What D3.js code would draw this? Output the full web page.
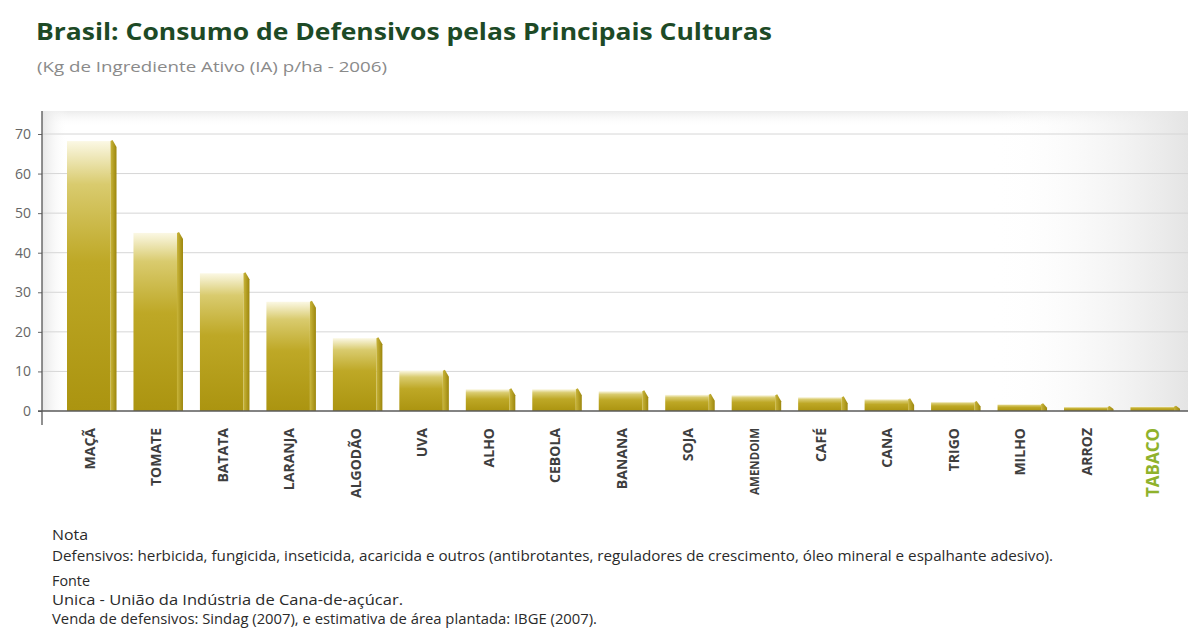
<!DOCTYPE html>
<html>
<head>
<meta charset="utf-8">
<script src="https://cdn.jsdelivr.net/npm/d3@7"></script>
<style>
  body { margin: 0; background: #fff; }
  svg { display: block; font-family: "Open Sans", "Noto Sans", sans-serif; }
</style>
</head>
<body>
<div id="chart"></div>
<script>
// crops and kg of active ingredient per hectare (2006)
var crops = ["MAÇÃ", "TOMATE", "BATATA", "LARANJA", "ALGODÃO", "UVA", "ALHO", "CEBOLA", "BANANA",
  "SOJA", "AMENDOIM", "CAFÉ", "CANA", "TRIGO", "MILHO", "ARROZ", "TABACO"];
var kgPerHa = [68.2, 45, 34.8, 27.6, 18.4, 10.2, 5.5, 5.5, 5, 4.1, 4, 3.5, 3, 2.3, 1.7, 1, 1.1];
var yTicks = [0, 10, 20, 30, 40, 50, 60, 70];
var notes = [
  "Nota",
  "Defensivos: herbicida, fungicida, inseticida, acaricida e outros (antibrotantes, reguladores de crescimento, óleo mineral e espalhante adesivo).",
  "Fonte",
  "Unica - União da Indústria de Cana-de-açúcar.",
  "Venda de defensivos: Sindag (2007), e estimativa de área plantada: IBGE (2007)."
];
var noteWidths = [36, 1001, 38, 351, 545];

var svgWidth = 1188;
var svgHeight = 633;
var plot = { left: 42, right: 1188, top: 111, bottom: 411 };

var svg = d3.select("#chart")
  .append("svg")
  .attr("width", svgWidth)
  .attr("height", svgHeight);

var defs = svg.append("defs");

var faceGrad = defs.append("linearGradient")
  .attr("id", "face").attr("x1", 0).attr("y1", 1).attr("x2", 0).attr("y2", 0);
faceGrad.append("stop").attr("offset", "0%").attr("stop-color", "#ab9410");
faceGrad.append("stop").attr("offset", "55%").attr("stop-color", "#bea826");
faceGrad.append("stop").attr("offset", "84%").attr("stop-color", "#d9cb6e");
faceGrad.append("stop").attr("offset", "100%").attr("stop-color", "#fbf8e4");

var sideGrad = defs.append("linearGradient")
  .attr("id", "side").attr("x1", 0).attr("y1", 0).attr("x2", 1).attr("y2", 0);
sideGrad.append("stop").attr("offset", "0%").attr("stop-color", "#c9b53a");
sideGrad.append("stop").attr("offset", "100%").attr("stop-color", "#9c860c");

var rightGrad = defs.append("linearGradient")
  .attr("id", "rightbg").attr("x1", 0).attr("y1", 0).attr("x2", 1).attr("y2", 0);
rightGrad.append("stop").attr("offset", "0%").attr("stop-color", "#ffffff").attr("stop-opacity", 0);
rightGrad.append("stop").attr("offset", "100%").attr("stop-color", "#e4e4e4").attr("stop-opacity", 1);

var leftGrad = defs.append("linearGradient")
  .attr("id", "leftbg").attr("x1", 0).attr("y1", 0).attr("x2", 1).attr("y2", 0);
leftGrad.append("stop").attr("offset", "0%").attr("stop-color", "#e6e6e6");
leftGrad.append("stop").attr("offset", "100%").attr("stop-color", "#ffffff").attr("stop-opacity", 0);

var topGrad = defs.append("linearGradient")
  .attr("id", "topbg").attr("x1", 0).attr("y1", 0).attr("x2", 0).attr("y2", 1);
topGrad.append("stop").attr("offset", "0%").attr("stop-color", "#ececec");
topGrad.append("stop").attr("offset", "100%").attr("stop-color", "#ffffff").attr("stop-opacity", 0);

// title
svg.append("text")
  .attr("x", 36).attr("y", 40)
  .attr("fill", "#1d4a26")
  .attr("font-size", 24).attr("font-weight", "bold")
  .attr("textLength", 736).attr("lengthAdjust", "spacingAndGlyphs")
  .text("Brasil: Consumo de Defensivos pelas Principais Culturas");

svg.append("text")
  .attr("x", 37).attr("y", 72)
  .attr("fill", "#8a8a8a")
  .attr("font-size", 15)
  .attr("textLength", 350).attr("lengthAdjust", "spacingAndGlyphs")
  .text("(Kg de Ingrediente Ativo (IA) p/ha - 2006)");

// background shading
svg.append("rect")
  .attr("x", plot.left).attr("y", plot.top)
  .attr("width", plot.right - plot.left).attr("height", 16)
  .attr("fill", "url(#topbg)");
svg.append("rect")
  .attr("x", 990).attr("y", plot.top)
  .attr("width", plot.right - 990).attr("height", plot.bottom - plot.top)
  .attr("fill", "url(#rightbg)");
svg.append("rect")
  .attr("x", plot.left).attr("y", plot.top)
  .attr("width", 26).attr("height", plot.bottom - plot.top)
  .attr("fill", "url(#leftbg)");

var x = d3.scaleBand()
  .domain(crops)
  .range([67, 1180])
  .paddingInner(0.255)
  .paddingOuter(0);

var y = d3.scaleLinear()
  .domain([0, 70])
  .range([plot.bottom, 134]);

// grid lines
svg.append("g")
  .selectAll("line")
  .data(yTicks.filter(d => d > 0))
  .join("line")
  .attr("x1", plot.left).attr("x2", plot.right)
  .attr("y1", d => y(d)).attr("y2", d => y(d))
  .attr("stroke", "#d6d6d6").attr("stroke-width", 1);

// y axis
var leftAxis = d3.axisLeft(y).tickValues(yTicks).tickSize(4).tickPadding(7);
var yAxis = svg.append("g")
  .attr("transform", `translate(${plot.left}, 0)`)
  .call(leftAxis);
yAxis.select(".domain").remove();
yAxis.selectAll(".tick line").attr("stroke", "#666");
yAxis.selectAll("text")
  .attr("fill", "#666")
  .attr("font-size", 14)
  .attr("font-family", "'Open Sans', sans-serif");

svg.append("line")
  .attr("x1", plot.left).attr("x2", plot.left)
  .attr("y1", plot.top).attr("y2", 425)
  .attr("stroke", "#555").attr("stroke-width", 1.3);

// bars
var sideW = 6;
var faceW = x.bandwidth() - sideW;

var bars = svg.append("g")
  .selectAll("g")
  .data(crops.map((c, i) => ({ crop: c, value: kgPerHa[i] })))
  .join("g");

bars.append("rect")
  .attr("x", d => x(d.crop))
  .attr("y", d => y(d.value))
  .attr("width", faceW)
  .attr("height", d => y(0) - y(d.value))
  .attr("fill", "url(#face)");

bars.append("path")
  .attr("d", d => {
    var x0 = x(d.crop) + faceW;
    var top = y(d.value);
    var cap = Math.min(6, (y(0) - top) * 0.5);
    return `M${x0},${top} L${x0 + 2},${top - 1} L${x0 + sideW},${top + cap} L${x0 + sideW},${y(0)} L${x0},${y(0)} Z`;
  })
  .attr("fill", "url(#side)");

// zero line
svg.append("line")
  .attr("x1", plot.left - 4).attr("x2", plot.right)
  .attr("y1", y(0)).attr("y2", y(0))
  .attr("stroke", "#5a5a5a").attr("stroke-width", 1.6);

// x labels, rotated
svg.append("g")
  .selectAll("text")
  .data(crops)
  .join("text")
  .attr("transform", d => `translate(${x(d) + faceW / 2 + (d === "TABACO" ? 7 : 6)}, 428) rotate(-90)`)
  .attr("text-anchor", "end")
  .attr("fill", d => d === "TABACO" ? "#8fb22c" : "#3e3e3e")
  .attr("font-size", d => d === "TABACO" ? 17 : (d === "AMENDOIM" ? 11.5 : 14))
  .attr("font-weight", "bold")
  .text(d => d);

// notes
var noteY = [540, 561, 586, 605, 624];
svg.append("g")
  .selectAll("text")
  .data(notes)
  .join("text")
  .attr("x", 52)
  .attr("y", (d, i) => noteY[i])
  .attr("fill", "#2a2a2a")
  .attr("font-size", 14)
  .attr("textLength", (d, i) => noteWidths[i])
  .attr("lengthAdjust", "spacingAndGlyphs")
  .text(d => d);
</script>
</body>
</html>
